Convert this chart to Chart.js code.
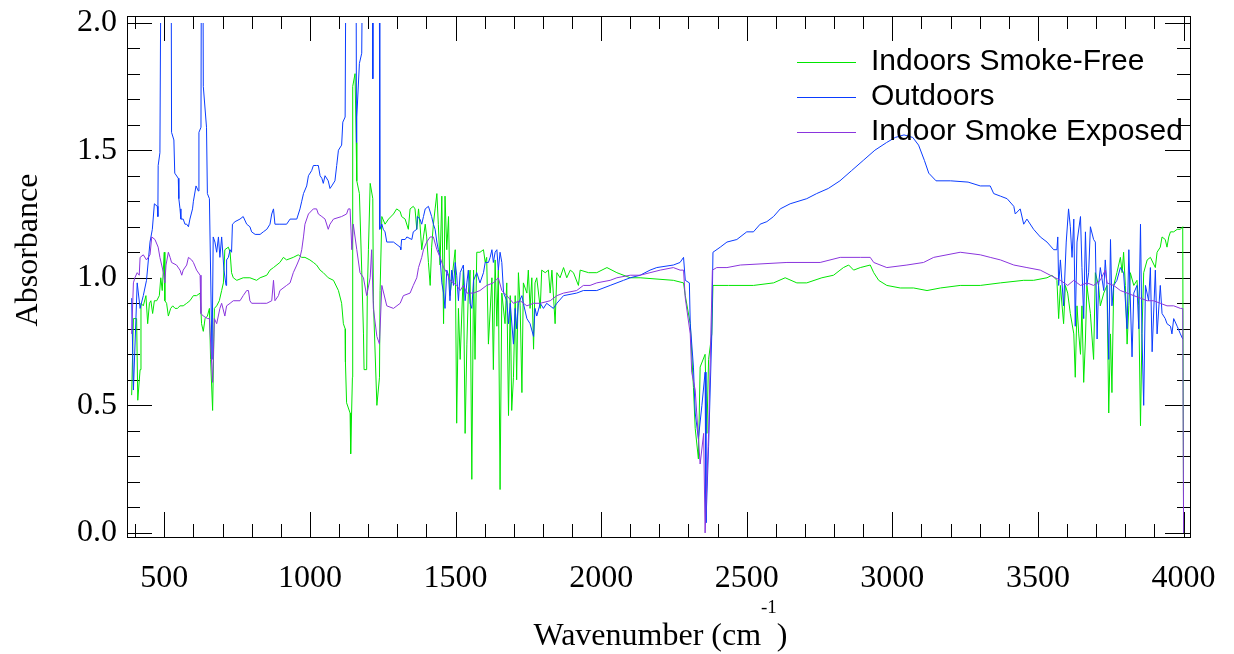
<!DOCTYPE html>
<html>
<head>
<meta charset="utf-8">
<title>Absorbance spectra</title>
<script src="https://cdn.jsdelivr.net/npm/chart.js@4.4.1/dist/chart.umd.min.js"></script>
<style>
    html, body { margin: 0; padding: 0; background: #fff; }
</style>
</head>
<body>
<canvas id="spectra" width="1234" height="654"></canvas>
<script>
// Wavenumbers (cm-1) and absorbance.
const smokeFreeWn = [388, 394, 405, 409, 417, 420, 428, 437, 443, 449, 454, 460, 466, 474, 483, 488, 493, 500, 502, 508, 514, 522, 529, 537, 545, 554, 565, 577, 588, 600, 611, 623, 628, 634, 640, 648, 655, 659, 666, 672, 680, 689, 697, 703, 708, 720, 726, 731, 737, 749, 771, 794, 817, 829, 852, 863, 875, 897, 909, 920, 943, 960, 972, 983, 1000, 1012, 1023, 1035, 1046, 1063, 1081, 1098, 1109, 1115, 1121, 1122, 1126, 1138, 1140, 1146, 1147, 1155, 1159, 1161, 1170, 1178, 1184, 1186, 1195, 1197, 1201, 1207, 1216, 1218, 1230, 1239, 1241, 1247, 1258, 1270, 1287, 1298, 1310, 1315, 1327, 1338, 1344, 1355, 1361, 1367, 1373, 1378, 1384, 1390, 1396, 1401, 1407, 1413, 1418, 1424, 1430, 1436, 1441, 1447, 1453, 1459, 1464, 1470, 1476, 1481, 1499, 1504, 1510, 1516, 1527, 1533, 1539, 1544, 1550, 1556, 1562, 1567, 1573, 1584, 1596, 1602, 1607, 1613, 1625, 1630, 1636, 1642, 1647, 1653, 1659, 1670, 1676, 1682, 1688, 1693, 1699, 1705, 1710, 1716, 1722, 1728, 1733, 1745, 1750, 1756, 1762, 1768, 1773, 1779, 1791, 1796, 1808, 1819, 1825, 1831, 1842, 1848, 1859, 1871, 1882, 1894, 1905, 1922, 1928, 1957, 1985, 2020, 2054, 2100, 2134, 2248, 2283, 2289, 2306, 2317, 2323, 2334, 2340, 2357, 2363, 2369, 2380, 2384, 2437, 2523, 2592, 2632, 2672, 2706, 2758, 2798, 2832, 2850, 2867, 2890, 2924, 2936, 2953, 2981, 3027, 3073, 3119, 3165, 3233, 3302, 3371, 3451, 3485, 3531, 3548, 3565, 3571, 3577, 3588, 3594, 3602, 3611, 3623, 3628, 3634, 3640, 3646, 3651, 3657, 3663, 3668, 3680, 3686, 3691, 3697, 3708, 3714, 3726, 3737, 3743, 3749, 3754, 3760, 3771, 3783, 3789, 3794, 3800, 3806, 3812, 3817, 3829, 3840, 3846, 3852, 3857, 3863, 3875, 3886, 3903, 3909, 3920, 3926, 3937, 3943, 3949, 3955, 3966, 3978, 3989, 3997, 4000];
const smokeFreeAbs = [0.54, 0.84, 0.84, 0.52, 0.64, 0.90, 0.89, 0.93, 0.82, 0.90, 0.91, 0.86, 0.91, 0.91, 0.93, 1.00, 0.95, 1.10, 0.91, 0.90, 0.85, 0.88, 0.89, 0.88, 0.88, 0.89, 0.89, 0.90, 0.91, 0.93, 0.93, 0.94, 0.82, 0.79, 0.84, 0.85, 0.88, 0.68, 0.48, 0.88, 0.89, 0.91, 0.95, 0.98, 1.11, 1.12, 1.10, 1.02, 1.00, 0.99, 1.00, 1.00, 0.99, 1.00, 1.01, 1.03, 1.04, 1.06, 1.08, 1.07, 1.08, 1.09, 1.08, 1.08, 1.07, 1.06, 1.05, 1.03, 1.02, 1.00, 0.99, 0.95, 0.90, 0.82, 0.80, 0.67, 0.51, 0.47, 0.31, 0.61, 1.75, 1.80, 1.53, 1.38, 1.33, 1.03, 0.78, 0.64, 0.64, 0.93, 1.11, 1.37, 1.31, 0.91, 0.50, 0.61, 0.95, 1.24, 1.21, 1.23, 1.25, 1.27, 1.26, 1.24, 1.23, 1.19, 1.27, 1.28, 1.27, 1.19, 1.27, 1.21, 1.11, 1.16, 1.21, 1.16, 1.06, 0.97, 1.12, 1.21, 1.27, 1.33, 1.21, 1.05, 1.32, 0.82, 1.32, 1.11, 1.24, 0.93, 1.11, 0.43, 0.88, 0.68, 1.03, 0.39, 0.74, 0.94, 1.03, 0.21, 1.03, 0.68, 1.10, 1.10, 1.11, 1.06, 1.08, 0.74, 1.00, 0.64, 1.07, 0.81, 1.03, 0.17, 0.94, 0.82, 0.98, 0.46, 0.93, 0.48, 0.61, 0.93, 0.60, 1.02, 0.89, 0.55, 0.98, 0.94, 1.03, 0.88, 1.00, 0.72, 0.98, 1.00, 0.88, 1.03, 1.02, 1.03, 0.94, 1.03, 0.82, 1.02, 1.00, 1.04, 1.00, 1.03, 1.02, 0.97, 1.03, 1.02, 1.02, 1.04, 1.02, 1.00, 1.00, 0.99, 0.98, 0.93, 0.82, 0.57, 0.41, 0.29, 0.65, 0.70, 0.39, 0.68, 0.78, 0.97, 0.97, 0.97, 0.98, 1.00, 0.98, 0.98, 1.00, 1.01, 1.04, 1.05, 1.03, 1.04, 1.05, 1.02, 0.99, 0.97, 0.96, 0.96, 0.95, 0.96, 0.97, 0.97, 0.98, 0.99, 0.99, 1.00, 1.01, 0.99, 0.84, 0.97, 0.82, 0.97, 0.94, 0.86, 0.78, 0.61, 0.89, 0.78, 0.70, 0.89, 0.59, 0.76, 0.97, 0.86, 0.76, 0.68, 1.02, 0.97, 0.89, 0.94, 0.97, 0.47, 0.78, 0.55, 0.97, 1.02, 1.08, 1.02, 1.10, 0.97, 0.74, 0.89, 1.02, 0.97, 0.99, 0.89, 0.42, 0.78, 1.02, 1.07, 1.08, 1.04, 1.10, 1.12, 1.16, 1.15, 1.12, 1.16, 1.18, 1.18, 1.19, 1.19, 1.20, 0.0];

const outdoorsWn = [388, 394, 407, 417, 428, 439, 451, 459, 466, 476, 478, 479, 485, 490, 523, 525, 533, 536, 548, 550, 554, 557, 565, 571, 577, 583, 588, 597, 600, 609, 617, 619, 626, 628, 632, 634, 645, 648, 655, 664, 668, 674, 680, 686, 691, 697, 705, 712, 714, 720, 726, 731, 734, 743, 760, 771, 783, 794, 800, 812, 829, 840, 852, 863, 869, 875, 880, 897, 920, 932, 955, 966, 972, 978, 989, 995, 1006, 1012, 1023, 1029, 1035, 1041, 1046, 1052, 1063, 1069, 1075, 1086, 1092, 1098, 1109, 1113, 1121, 1125, 1158, 1160, 1161, 1170, 1178, 1183, 1215, 1216, 1217, 1238, 1240, 1247, 1252, 1258, 1264, 1287, 1310, 1312, 1315, 1327, 1333, 1350, 1355, 1367, 1369, 1378, 1384, 1390, 1396, 1407, 1418, 1424, 1430, 1436, 1441, 1447, 1453, 1459, 1464, 1470, 1476, 1481, 1487, 1493, 1499, 1504, 1510, 1516, 1527, 1533, 1539, 1544, 1550, 1556, 1562, 1573, 1584, 1596, 1602, 1613, 1619, 1625, 1630, 1636, 1642, 1647, 1653, 1659, 1665, 1676, 1682, 1688, 1699, 1705, 1710, 1716, 1728, 1733, 1745, 1756, 1768, 1773, 1779, 1791, 1802, 1813, 1836, 1848, 1871, 1916, 1939, 1985, 2031, 2077, 2100, 2134, 2168, 2191, 2248, 2271, 2283, 2289, 2303, 2306, 2317, 2323, 2334, 2346, 2357, 2360, 2369, 2380, 2384, 2409, 2432, 2466, 2500, 2523, 2546, 2569, 2592, 2615, 2649, 2706, 2740, 2780, 2820, 2860, 2900, 2940, 2980, 3010, 3040, 3070, 3090, 3110, 3125, 3150, 3200, 3260, 3302, 3336, 3348, 3371, 3394, 3417, 3422, 3439, 3451, 3462, 3485, 3508, 3531, 3554, 3565, 3568, 3571, 3577, 3588, 3597, 3605, 3611, 3617, 3623, 3628, 3634, 3646, 3651, 3657, 3663, 3668, 3674, 3680, 3691, 3697, 3703, 3708, 3714, 3726, 3731, 3737, 3743, 3749, 3754, 3760, 3771, 3783, 3794, 3806, 3812, 3823, 3829, 3840, 3846, 3852, 3857, 3863, 3869, 3880, 3886, 3892, 3903, 3909, 3920, 3926, 3937, 3943, 3955, 3960, 3966, 3978, 3989, 3997];
const outdoorsAbs = [0.92, 0.56, 0.98, 0.88, 0.93, 0.99, 1.14, 1.19, 1.29, 1.28, 1.24, 1.44, 1.49, 2.6, 2.6, 1.57, 1.54, 1.41, 1.39, 1.31, 1.27, 1.23, 1.23, 1.21, 1.21, 1.20, 1.23, 1.27, 1.30, 1.36, 1.34, 1.57, 1.59, 2.6, 2.6, 1.75, 1.59, 1.33, 1.31, 0.68, 1.16, 1.14, 1.10, 1.16, 1.08, 1.16, 1.03, 0.97, 1.07, 1.08, 1.11, 1.10, 1.21, 1.22, 1.23, 1.24, 1.21, 1.20, 1.18, 1.17, 1.17, 1.18, 1.19, 1.21, 1.25, 1.27, 1.21, 1.21, 1.21, 1.23, 1.23, 1.27, 1.30, 1.33, 1.36, 1.40, 1.42, 1.44, 1.44, 1.44, 1.40, 1.39, 1.37, 1.40, 1.38, 1.35, 1.36, 1.38, 1.44, 1.50, 1.52, 1.61, 1.63, 2.6, 2.6, 1.53, 1.63, 1.84, 1.88, 2.6, 2.6, 1.78, 2.6, 2.6, 1.19, 1.21, 1.19, 1.18, 1.14, 1.14, 1.12, 1.11, 1.15, 1.15, 1.16, 1.15, 1.18, 1.19, 1.24, 1.23, 1.21, 1.24, 1.27, 1.28, 1.24, 1.21, 1.19, 1.14, 1.11, 1.08, 0.98, 0.94, 0.88, 1.03, 1.01, 0.91, 1.03, 0.97, 1.06, 1.01, 0.91, 1.02, 1.05, 0.91, 0.98, 1.03, 0.90, 0.88, 0.99, 1.02, 0.98, 1.02, 1.06, 1.06, 1.08, 1.11, 1.06, 1.10, 1.11, 1.03, 1.10, 1.06, 0.94, 0.91, 0.82, 0.90, 0.74, 0.88, 0.80, 0.90, 0.93, 0.90, 0.84, 0.82, 0.77, 0.88, 0.85, 0.90, 0.88, 0.90, 0.88, 0.90, 0.93, 0.94, 0.95, 0.95, 0.97, 0.99, 1.00, 1.01, 1.03, 1.04, 1.05, 1.06, 1.08, 0.99, 0.98, 0.82, 0.65, 0.47, 0.37, 0.50, 0.63, 0.04, 0.34, 0.78, 1.10, 1.12, 1.14, 1.15, 1.18, 1.18, 1.21, 1.22, 1.24, 1.27, 1.29, 1.31, 1.33, 1.35, 1.38, 1.42, 1.46, 1.50, 1.53, 1.55, 1.56, 1.55, 1.52, 1.46, 1.41, 1.38, 1.38, 1.375, 1.36, 1.36, 1.33, 1.32, 1.31, 1.28, 1.25, 1.27, 1.21, 1.23, 1.19, 1.16, 1.14, 1.11, 1.11, 1.16, 0.97, 1.07, 0.89, 1.14, 1.27, 1.20, 1.08, 1.23, 0.81, 1.14, 1.24, 1.04, 0.84, 1.18, 0.97, 1.02, 1.20, 1.15, 1.14, 0.76, 0.97, 1.04, 0.95, 1.07, 0.97, 0.68, 1.15, 0.89, 0.97, 0.99, 1.04, 1.02, 0.80, 1.11, 0.69, 0.94, 0.97, 0.80, 1.21, 0.78, 0.50, 0.97, 0.91, 1.04, 0.71, 1.03, 0.78, 0.97, 0.86, 0.84, 0.82, 0.81, 0.78, 0.84, 0.81, 0.78, 0.76];

const exposedWn = [388, 394, 399, 407, 414, 417, 428, 439, 451, 457, 468, 479, 485, 491, 497, 502, 506, 514, 520, 525, 542, 554, 560, 565, 577, 583, 594, 600, 611, 623, 626, 634, 649, 655, 666, 672, 680, 691, 697, 708, 714, 726, 737, 760, 771, 783, 789, 794, 800, 829, 852, 869, 875, 880, 892, 897, 920, 932, 943, 955, 966, 972, 978, 983, 995, 1012, 1023, 1029, 1041, 1052, 1063, 1069, 1081, 1109, 1126, 1132, 1138, 1144, 1149, 1161, 1172, 1184, 1195, 1207, 1212, 1218, 1230, 1239, 1247, 1264, 1287, 1310, 1321, 1344, 1355, 1367, 1373, 1384, 1390, 1401, 1413, 1424, 1436, 1447, 1459, 1470, 1481, 1504, 1516, 1527, 1539, 1562, 1584, 1607, 1630, 1647, 1659, 1676, 1699, 1722, 1745, 1768, 1791, 1825, 1848, 1871, 1916, 1939, 1962, 1985, 2031, 2054, 2100, 2134, 2168, 2203, 2248, 2271, 2283, 2289, 2306, 2311, 2323, 2334, 2340, 2352, 2357, 2369, 2374, 2382, 2397, 2432, 2478, 2638, 2752, 2821, 2890, 2924, 2936, 2981, 3050, 3107, 3142, 3233, 3302, 3336, 3371, 3417, 3462, 3508, 3542, 3577, 3602, 3623, 3646, 3668, 3691, 3714, 3731, 3737, 3760, 3783, 3806, 3829, 3852, 3875, 3897, 3920, 3943, 3966, 3989, 3997, 4000];
const exposedAbs = [0.78, 0.98, 1.00, 1.02, 1.01, 1.08, 1.09, 1.07, 1.09, 1.16, 1.15, 1.12, 1.08, 1.05, 1.02, 0.98, 1.05, 1.10, 1.08, 1.06, 1.05, 1.03, 1.01, 1.03, 1.05, 1.08, 1.07, 1.06, 1.03, 1.01, 0.86, 0.85, 0.84, 0.84, 0.59, 0.84, 0.82, 0.88, 0.90, 0.85, 0.89, 0.90, 0.91, 0.91, 0.93, 0.95, 0.95, 0.91, 0.90, 0.90, 0.90, 0.91, 0.99, 0.91, 0.93, 0.95, 0.97, 0.98, 1.02, 1.05, 1.08, 1.11, 1.16, 1.21, 1.25, 1.27, 1.27, 1.25, 1.24, 1.23, 1.19, 1.21, 1.23, 1.24, 1.25, 1.27, 1.27, 1.11, 1.21, 1.11, 1.02, 1.00, 0.93, 1.00, 1.11, 0.88, 0.77, 0.74, 0.97, 0.89, 0.88, 0.90, 0.93, 0.94, 0.97, 1.00, 1.04, 1.08, 1.11, 1.14, 1.16, 1.16, 1.11, 1.08, 1.04, 1.02, 0.99, 0.97, 0.95, 0.97, 0.94, 0.94, 0.95, 0.97, 0.98, 1.00, 0.95, 0.93, 0.90, 0.91, 0.89, 0.90, 0.90, 0.91, 0.93, 0.94, 0.95, 0.97, 0.97, 0.98, 0.99, 1.00, 1.01, 1.01, 1.02, 1.03, 1.04, 1.03, 1.03, 0.92, 0.78, 0.63, 0.56, 0.37, 0.27, 0.39, 0.0, 0.39, 0.65, 1.03, 1.04, 1.04, 1.05, 1.06, 1.06, 1.08, 1.08, 1.08, 1.06, 1.04, 1.05, 1.06, 1.08, 1.10, 1.09, 1.08, 1.07, 1.05, 1.04, 1.03, 1.01, 0.99, 0.97, 0.99, 0.97, 0.98, 0.97, 0.99, 1.03, 0.98, 0.97, 0.95, 0.94, 0.93, 0.92, 0.91, 0.91, 0.90, 0.89, 0.89, 0.88, 0.88, 0.0];

const seriesLabels = ["Indoors Smoke-Free", "Outdoors", "Indoor Smoke Exposed"];
const seriesColors = ["#00e600", "#0a3cff", "#8a35dd"];

// Axis range of the frame and the labelled ticks.
const xRange = [372, 4022];
const yRange = [-0.016, 2.026];
const xTickValues = [500, 1000, 1500, 2000, 2500, 3000, 3500, 4000];
const yTickValues = [0, 0.5, 1.0, 1.5, 2.0];
const xMinor = 100, yMinor = 0.1;

const serif = "'Liberation Serif', 'Times New Roman', serif";
const sans = "'Liberation Sans', Arial, sans-serif";

function toPoints(xs, ys) {
    return xs.map((x, i) => ({ x: x, y: ys[i] }));
}

// Frame round the plot and ticks pointing inward on all four sides.
const frameTicks = {
    id: "frameTicks",
    beforeDatasetsDraw(chart) {
        const { ctx, chartArea: a, scales: { x, y } } = chart;
        const majorLen = 25, minorLen = 13;

        ctx.save();
        ctx.strokeStyle = "#000";
        ctx.lineWidth = 1;
        ctx.strokeRect(Math.round(a.left) + 0.5, Math.round(a.top) + 0.5,
            Math.round(a.right - a.left), Math.round(a.bottom - a.top));

        ctx.beginPath();
        for (let v = 400; v <= 4000; v += xMinor) {
            const px = Math.round(x.getPixelForValue(v)) + 0.5;
            const len = xTickValues.includes(v) ? majorLen : minorLen;
            ctx.moveTo(px, a.bottom);
            ctx.lineTo(px, a.bottom - len);
            ctx.moveTo(px, a.top);
            ctx.lineTo(px, a.top + len);
        }
        for (let i = 0; i <= 20; i++) {
            const py = Math.round(y.getPixelForValue(i * yMinor)) + 0.5;
            const len = i % 5 === 0 ? majorLen : minorLen;
            ctx.moveTo(a.left, py);
            ctx.lineTo(a.left + len, py);
            ctx.moveTo(a.right, py);
            ctx.lineTo(a.right - len, py);
        }
        ctx.stroke();
        ctx.restore();
    }
};

// Axis titles, the x one with a superscript.
const axisTitles = {
    id: "axisTitles",
    afterDraw(chart) {
        const { ctx, chartArea: a } = chart;
        ctx.save();
        ctx.fillStyle = "#000";
        ctx.textBaseline = "alphabetic";

        ctx.font = "32px " + serif;
        const main = "Wavenumber (cm";
        const close = ")";
        const wMain = ctx.measureText(main).width;
        const wClose = ctx.measureText(close).width;
        ctx.font = "19px " + serif;
        const sup = "-1";
        const wSup = ctx.measureText(sup).width;
        let left = (a.left + a.right) / 2 + 2 - (wMain + wSup + wClose) / 2;
        const base = 645;

        ctx.font = "32px " + serif;
        ctx.textAlign = "left";
        ctx.fillText(main, left, base);
        left += wMain;
        ctx.font = "19px " + serif;
        ctx.fillText(sup, left, base - 32);
        left += wSup;
        ctx.font = "32px " + serif;
        ctx.fillText(close, left, base);

        ctx.translate(37, 250);
        ctx.rotate(-Math.PI / 2);
        ctx.textAlign = "center";
        ctx.fillText("Absorbance", 0, 0);
        ctx.restore();
    }
};

// Legend in the upper right corner, a short line before each name.
const lineLegend = {
    id: "lineLegend",
    afterDraw(chart) {
        const { ctx, chartArea: a } = chart;
        const lineStart = a.right - 393, lineEnd = a.right - 334, textStart = a.right - 319;
        ctx.save();
        ctx.font = "30px " + sans;
        ctx.textBaseline = "middle";
        ctx.textAlign = "left";
        chart.data.datasets.forEach((ds, i) => {
            const yy = 62 + i * 35;
            ctx.strokeStyle = ds.borderColor;
            ctx.lineWidth = 1;
            ctx.beginPath();
            ctx.moveTo(lineStart, Math.round(yy) + 0.5);
            ctx.lineTo(lineEnd, Math.round(yy) + 0.5);
            ctx.stroke();
            ctx.fillStyle = "#000";
            ctx.fillText(ds.label, textStart, yy);
        });
        ctx.restore();
    }
};

// Fixed axis box sizes, no extra room for overhanging labels.
function fixBox(size) {
    return (s) => {
        if (s.isHorizontal()) s.height = size;
        else s.width = size;
        s.paddingTop = 0;
        s.paddingBottom = 0;
        s.paddingLeft = 0;
        s.paddingRight = 0;
    };
}

function buildChart() {
    const clipTop = { left: 0, top: -7, right: 0, bottom: 0 };
    const series = [
        [smokeFreeWn, smokeFreeAbs, 3],
        [outdoorsWn, outdoorsAbs, 2],
        [exposedWn, exposedAbs, 1]
    ];

    new Chart(document.getElementById("spectra"), {
        type: "line",
        data: {
            datasets: series.map(([xs, ys, order], i) => ({
                label: seriesLabels[i],
                data: toPoints(xs, ys),
                borderColor: seriesColors[i],
                backgroundColor: seriesColors[i],
                borderWidth: 1,
                pointRadius: 0,
                tension: 0,
                fill: false,
                clip: clipTop,
                order: order
            }))
        },
        options: {
            responsive: false,
            animation: false,
            layout: { padding: { top: 16, right: 44, left: 0, bottom: 0 } },
            plugins: {
                legend: { display: false },
                tooltip: { enabled: false }
            },
            scales: {
                x: {
                    type: "linear",
                    min: xRange[0],
                    max: xRange[1],
                    afterBuildTicks: (s) => { s.ticks = xTickValues.map(v => ({ value: v })); },
                    afterFit: fixBox(117),
                    grid: { display: false, drawTicks: false },
                    border: { display: false },
                    ticks: {
                        autoSkip: false,
                        maxRotation: 0,
                        padding: 22,
                        color: "#000",
                        font: { family: serif, size: 32 },
                        callback: (v) => String(v)
                    }
                },
                y: {
                    min: yRange[0],
                    max: yRange[1],
                    afterBuildTicks: (s) => { s.ticks = yTickValues.map(v => ({ value: v })); },
                    afterFit: fixBox(127),
                    grid: { display: false, drawTicks: false },
                    border: { display: false },
                    ticks: {
                        autoSkip: false,
                        padding: 10,
                        color: "#000",
                        font: { family: serif, size: 32 },
                        callback: (v) => v.toFixed(1)
                    }
                }
            }
        },
        plugins: [frameTicks, axisTitles, lineLegend]
    });
}

buildChart();
</script>
</body>
</html>
